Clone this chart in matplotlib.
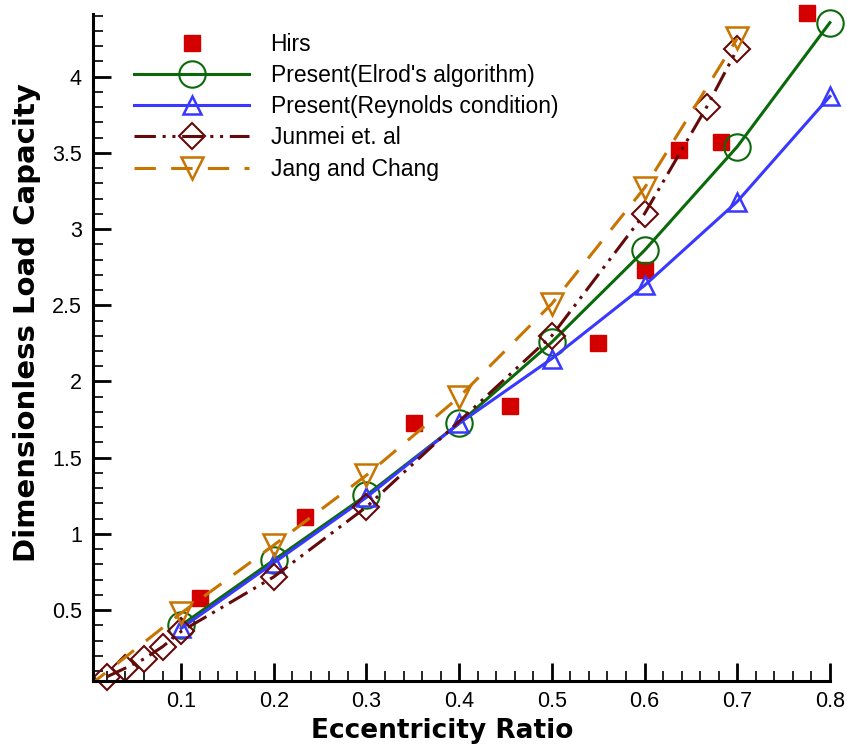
"""
Capacidad de carga adimensional frente a la relación de excentricidad.
Compara los resultados propios con los datos de referencia de la literatura.
"""

import matplotlib
matplotlib.use('Agg')
import matplotlib.pyplot as plt
from matplotlib.ticker import MultipleLocator

plt.rcParams['font.family'] = ['Liberation Sans', 'DejaVu Sans']

# Datos experimentales (Hirs)
hirs_x = [0.12, 0.234, 0.351, 0.455, 0.55, 0.60, 0.637, 0.682, 0.775]
hirs_y = [0.577, 1.11, 1.727, 1.84, 2.25, 2.73, 3.52, 3.57, 4.42]

# Resultados propios
presente_x = [0.1, 0.2, 0.3, 0.4, 0.5, 0.6, 0.7, 0.8]
elrod_y = [0.40, 0.828, 1.254, 1.725, 2.258, 2.86, 3.54, 4.354]
reynolds_y = [0.38, 0.81, 1.24, 1.725, 2.15, 2.63, 3.18, 3.87]

# Junmei et. al
junmei_x = [0.02, 0.04, 0.06, 0.08, 0.1, 0.2, 0.3, 0.5, 0.6, 0.667, 0.7]
junmei_y = [0.063, 0.12, 0.18, 0.26, 0.36, 0.718, 1.177, 2.30, 3.10, 3.80, 4.18]

# Jang and Chang (la curva parte del origen)
jang_x = [0.0, 0.1, 0.2, 0.3, 0.4, 0.5, 0.6, 0.7]
jang_y = [0.0, 0.48, 0.926, 1.385, 1.898, 2.51, 3.27, 4.25]

ROJO = '#D40000'
VERDE = '#0A6A0A'
AZUL = '#3838FF'
MARRON = '#640A0A'
NARANJA = '#C87400'

fig = plt.figure(figsize=(8.47, 7.46), dpi=100)
ax = fig.add_axes([0.1098, 0.0871, 0.870, 0.894])

ax.plot(hirs_x, hirs_y, linestyle='none', marker='s', markersize=12,
        color=ROJO, markeredgecolor=ROJO, clip_on=False, label='Hirs')

ax.plot(presente_x, elrod_y, color=VERDE, linewidth=2.2, marker='o',
        markersize=19, markerfacecolor='none', markeredgewidth=1.5,
        clip_on=False, label="Present(Elrod's algorithm)")

ax.plot(presente_x, reynolds_y, color=AZUL, linewidth=2.2, marker='^',
        markersize=13, markerfacecolor='none', markeredgewidth=1.8,
        clip_on=False, label='Present(Reynolds condition)')

ax.plot(junmei_x, junmei_y, color=MARRON, linewidth=2.2, marker='D',
        markersize=13, markerfacecolor='none', markeredgewidth=1.5,
        dashes=(7, 2.2, 1, 2.2, 1, 2.2), clip_on=False,
        label='Junmei et. al')

ax.plot(jang_x, jang_y, color=NARANJA, linewidth=2.2, marker='v',
        markersize=15.5, markerfacecolor='none', markeredgewidth=1.8,
        dashes=(7, 5), markevery=list(range(1, len(jang_x))),
        label='Jang and Chang')

ax.set_xlim(0.005, 0.8)
ax.set_ylim(0.035, 4.41)

# Estilo de ejes: solo izquierdo e inferior, marcas hacia dentro
for lado in ('top', 'right'):
    ax.spines[lado].set_visible(False)
for lado in ('left', 'bottom'):
    ax.spines[lado].set_linewidth(2.2)

ax.xaxis.set_major_locator(MultipleLocator(0.1))
ax.xaxis.set_minor_locator(MultipleLocator(0.02))
ax.yaxis.set_major_locator(MultipleLocator(0.5))
ax.yaxis.set_minor_locator(MultipleLocator(0.1))
ax.xaxis.set_major_formatter(plt.FuncFormatter(lambda v, p: f'{v:g}'))
ax.yaxis.set_major_formatter(plt.FuncFormatter(lambda v, p: f'{v:g}'))

ax.tick_params(which='major', direction='in', length=13, width=2,
               labelsize=15.5, pad=8, top=False, right=False)
ax.tick_params(axis='x', which='major', pad=7)
ax.tick_params(which='minor', direction='in', length=7, width=1.2,
               top=False, right=False)

# Títulos de ejes en negrita, con fuente más ancha
ax.set_xlabel('Eccentricity Ratio', fontsize=19, fontweight='bold',
              family='DejaVu Sans', va='center', ha='center')
ax.set_ylabel('Dimensionless Load Capacity', fontsize=21, fontweight='bold',
              family='DejaVu Sans', va='center', ha='center')
ax.xaxis.set_label_coords(0.4735, -0.075)
ax.yaxis.set_label_coords(-0.09, 0.538)

ax.legend(loc='upper left', bbox_to_anchor=(0.027, 1.003), frameon=False,
          fontsize=16.5, handlelength=5.06, handletextpad=0.92,
          labelspacing=0.36, borderaxespad=0.5)

plt.savefig('out.png', dpi=100)
plt.close()
